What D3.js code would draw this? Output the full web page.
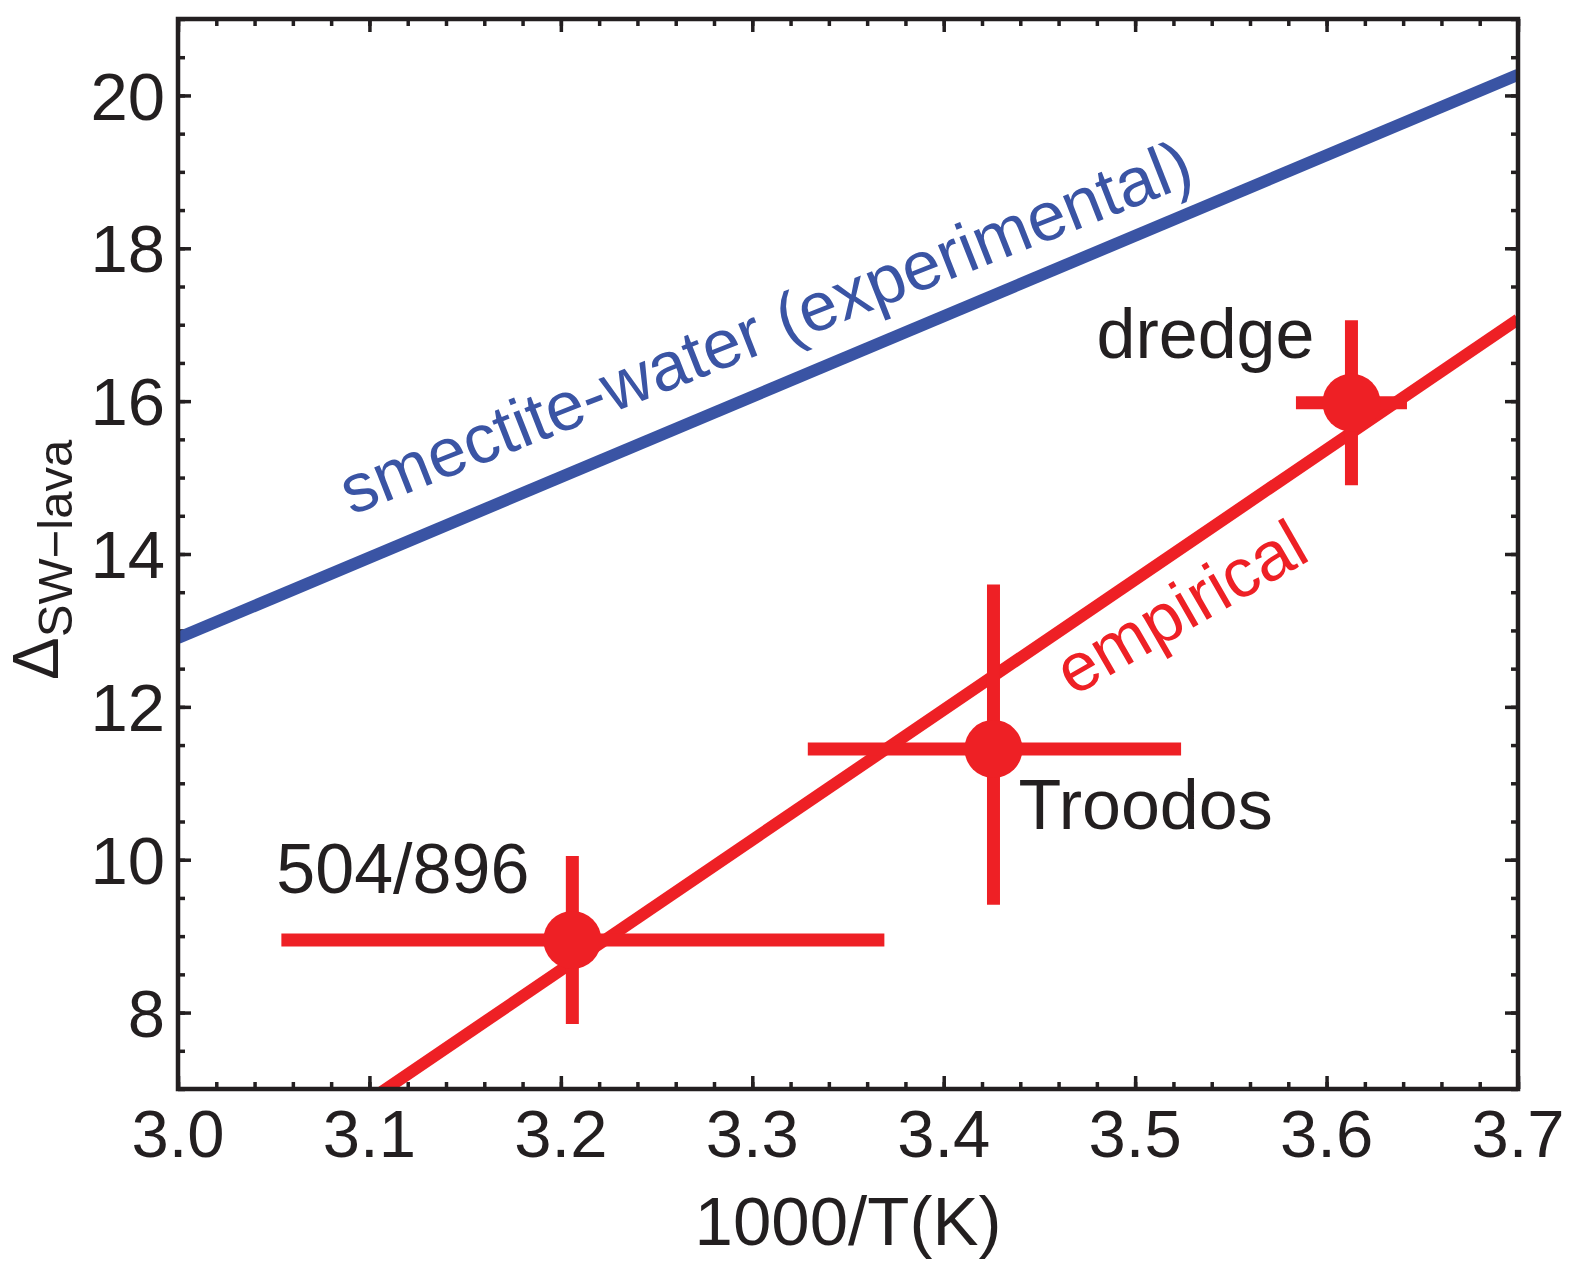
<!DOCTYPE html>
<html>
<head>
<meta charset="utf-8">
<script src="https://cdn.jsdelivr.net/npm/d3@7"></script>
<style>
  body { margin: 0; background: #fff; }
  text { font-family: "Liberation Sans", Arial, Helvetica, sans-serif; }
</style>
</head>
<body>
<svg id="chart"></svg>
<script>
// data
const sites = ["504/896", "Troodos", "dredge"];
const invT = [3.206, 3.426, 3.613];
const delta = [8.95, 11.45, 15.98];
const invTLo = [3.054, 3.329, 3.584];
const invTHi = [3.369, 3.524, 3.642];
const deltaLo = [7.85, 9.41, 14.9];
const deltaHi = [10.05, 13.6, 17.06];

// fitted lines (end points)
const lineX = [3.0, 3.7];
const smectiteY = [12.9, 20.27];
const empiricalY = [5.15, 17.07];

const xTicks = [3.0, 3.1, 3.2, 3.3, 3.4, 3.5, 3.6, 3.7];
const yTicks = [8, 10, 12, 14, 16, 18, 20];

const W = 1575, H = 1262;
const red = "#ee2025", blue = "#3a54a4", ink = "#231f20";

let svg = d3.select("svg#chart").attr("width", W).attr("height", H);

const x = d3.scaleLinear().domain([3.0, 3.7]).range([178, 1518]);
const y = d3.scaleLinear().domain([7, 21]).range([1089, 19]);

svg.append("clipPath").attr("id", "plot")
  .append("rect").attr("x", 178).attr("y", 19).attr("width", 1340).attr("height", 1070);

// ticks, all pointing inward
function tickAxis(axis, tr, size, vals) {
  const g = svg.append("g").attr("transform", tr)
    .call(axis.tickValues(vals).tickSize(size).tickFormat(""));
  g.select(".domain").remove();
  g.selectAll("line").attr("stroke", ink).attr("stroke-width", 3.5);
  return g;
}
const xMinor = d3.range(0, 36).map(i => 3.0 + i * 0.02);
const yMinor = d3.range(0, 29).map(i => 7 + i * 0.5);
tickAxis(d3.axisBottom(x), "translate(0,1089)", -7, xMinor);
tickAxis(d3.axisBottom(x), "translate(0,1089)", -13, xTicks);
tickAxis(d3.axisTop(x), "translate(0,19)", -7, xMinor);
tickAxis(d3.axisTop(x), "translate(0,19)", -13, xTicks);
tickAxis(d3.axisLeft(y), "translate(178,0)", -7, yMinor);
tickAxis(d3.axisLeft(y), "translate(178,0)", -13, yTicks);
tickAxis(d3.axisRight(y), "translate(1518,0)", -7, yMinor);
tickAxis(d3.axisRight(y), "translate(1518,0)", -13, yTicks);

// tick labels
svg.append("g").selectAll("text").data(xTicks).join("text")
  .attr("x", d => x(d)).attr("y", 1157)
  .attr("text-anchor", "middle").attr("font-size", 67).attr("fill", ink)
  .text(d3.format(".1f"));
svg.append("g").selectAll("text").data(yTicks).join("text")
  .attr("x", 165).attr("y", d => y(d)).attr("dy", "0.36em")
  .attr("text-anchor", "end").attr("font-size", 67).attr("fill", ink)
  .text(d => d);

// axis titles
svg.append("text").attr("x", 848).attr("y", 1245)
  .attr("text-anchor", "middle").attr("font-size", 69).attr("fill", ink)
  .text("1000/T(K)");
const yl = svg.append("text").attr("transform", "translate(58,680) rotate(-90)")
  .attr("fill", ink);
yl.append("tspan").attr("font-size", 64).text("Δ");
yl.append("tspan").attr("font-size", 49).attr("dy", 14).text("SW−lava");

// lines
const plot = svg.append("g").attr("clip-path", "url(#plot)");
const ln = d3.line().x(d => x(d[0])).y(d => y(d[1]));
plot.append("path").datum(d3.zip(lineX, smectiteY)).attr("d", ln)
  .attr("fill", "none").attr("stroke", blue).attr("stroke-width", 12);
plot.append("path").datum(d3.zip(lineX, empiricalY)).attr("d", ln)
  .attr("fill", "none").attr("stroke", red).attr("stroke-width", 12);

// error bars and points
const pts = sites.map((s, i) => ({s, x: invT[i], y: delta[i], x0: invTLo[i], x1: invTHi[i], y0: deltaLo[i], y1: deltaHi[i]}));
plot.selectAll(".hbar").data(pts).join("line").attr("class", "hbar")
  .attr("x1", d => x(d.x0)).attr("x2", d => x(d.x1))
  .attr("y1", d => y(d.y)).attr("y2", d => y(d.y))
  .attr("stroke", red).attr("stroke-width", 13);
plot.selectAll(".vbar").data(pts).join("line").attr("class", "vbar")
  .attr("x1", d => x(d.x)).attr("x2", d => x(d.x))
  .attr("y1", d => y(d.y0)).attr("y2", d => y(d.y1))
  .attr("stroke", red).attr("stroke-width", 13);
plot.selectAll(".pt").data(pts).join("circle").attr("class", "pt")
  .attr("cx", d => x(d.x)).attr("cy", d => y(d.y)).attr("r", 29)
  .attr("fill", red);

// site labels, offset from their points
const labelOff = [[-296, -47], [25, 80], [-255, -45]];
svg.selectAll(".site").data(pts).join("text").attr("class", "site")
  .attr("x", (d, i) => x(d.x) + labelOff[i][0])
  .attr("y", (d, i) => y(d.y) + labelOff[i][1])
  .attr("font-size", 70).attr("fill", ink)
  .text(d => d.s);

// line labels
svg.append("text")
  .attr("transform", `translate(${x(3.0905)},${y(13.81) - 53}) rotate(-21.5)`)
  .attr("font-size", 69).attr("fill", blue)
  .text("smectite-water (experimental)");
svg.append("text")
  .attr("transform", `translate(${x(3.4676)},${y(12.13)}) rotate(-30)`)
  .attr("font-size", 69).attr("fill", red)
  .text("empirical");

// frame
svg.append("rect").attr("x", 178).attr("y", 19).attr("width", 1340).attr("height", 1070)
  .attr("fill", "none").attr("stroke", ink).attr("stroke-width", 4.5);
</script>
</body>
</html>
